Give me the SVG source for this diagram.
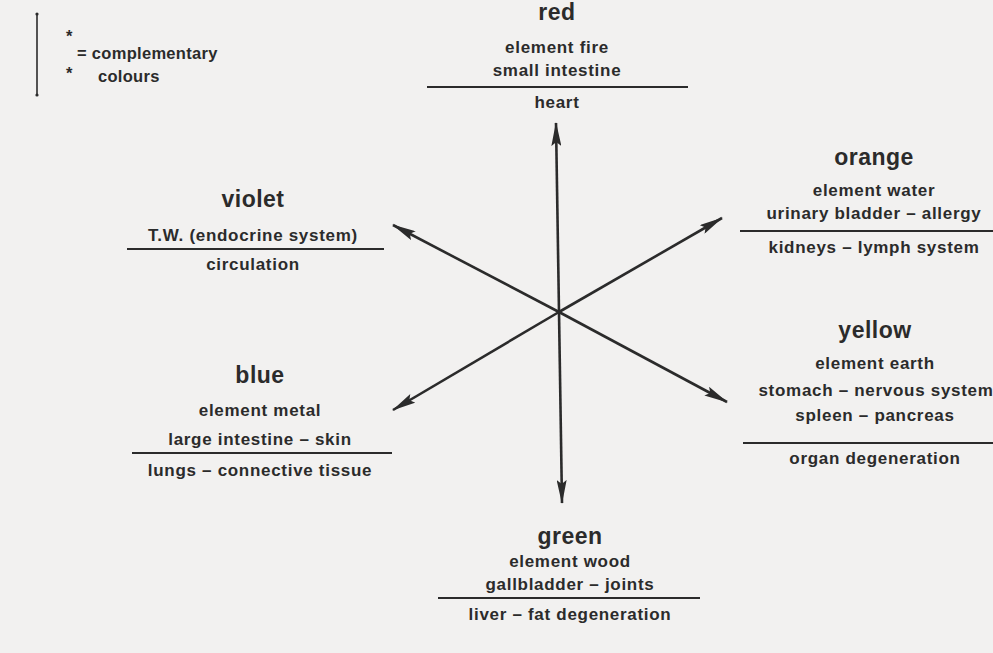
<svg xmlns="http://www.w3.org/2000/svg" width="993" height="653" viewBox="0 0 993 653">
  <style>
    text { font-family: "Liberation Sans", "DejaVu Sans", sans-serif; fill: #2b2b2b; text-anchor: middle; font-weight: bold; }
    .h { font-size: 23px; letter-spacing: 0.5px; }
    .t { font-size: 17px; letter-spacing: 0.7px; }
    .lg { font-size: 16.5px; text-anchor: start; letter-spacing: 0.3px; }
    .rule { stroke: #2b2b2b; stroke-width: 1.8; }
    .arr { stroke: #2b2b2b; stroke-width: 2.6; fill: none; marker-end: url(#ah); }
  </style>
  <defs>
    <marker id="ah" viewBox="0 0 24 10" refX="23" refY="5" markerWidth="24" markerHeight="10" markerUnits="userSpaceOnUse" orient="auto">
      <path d="M0,0 L24,5 L0,10 L4,5 z" fill="#2b2b2b"/>
    </marker>
  </defs>
  <rect width="993" height="653" fill="#f2f1f0"/>

  <g id="legend">
    <line x1="37" y1="14" x2="37" y2="95" stroke="#2b2b2b" stroke-width="1.6"/>
    <circle cx="37" cy="14" r="1.6" fill="#2b2b2b"/>
    <circle cx="37" cy="95" r="1.6" fill="#2b2b2b"/>
    <text class="lg" x="66" y="42">*</text>
    <text class="lg" x="66" y="79">*</text>
    <text class="lg" x="77" y="59">= complementary</text>
    <text class="lg" x="98" y="82">colours</text>
  </g>

  <g id="connectors">
    <line class="arr" x1="559" y1="312" x2="556" y2="123"/>
    <line class="arr" x1="559" y1="312" x2="562" y2="503"/>
    <line class="arr" x1="559" y1="312" x2="393" y2="225"/>
    <line class="arr" x1="559" y1="312" x2="722" y2="218"/>
    <line class="arr" x1="559" y1="312" x2="393" y2="410"/>
    <line class="arr" x1="559" y1="312" x2="727" y2="402"/>
  </g>

  <g id="red">
    <text class="h" x="557" y="20">red</text>
    <text class="t" x="557" y="53">element fire</text>
    <text class="t" x="557" y="76">small intestine</text>
    <line class="rule" x1="427" y1="87" x2="688" y2="87"/>
    <text class="t" x="557" y="108">heart</text>
  </g>

  <g id="orange">
    <text class="h" x="874" y="165">orange</text>
    <text class="t" x="874" y="196">element water</text>
    <text class="t" x="874" y="219">urinary bladder – allergy</text>
    <line class="rule" x1="740" y1="231" x2="993" y2="231"/>
    <text class="t" x="874" y="253">kidneys – lymph system</text>
  </g>

  <g id="violet">
    <text class="h" x="253" y="207">violet</text>
    <text class="t" x="253" y="241">T.W. (endocrine system)</text>
    <line class="rule" x1="127" y1="249" x2="384" y2="249"/>
    <text class="t" x="253" y="270">circulation</text>
  </g>

  <g id="blue">
    <text class="h" x="260" y="383">blue</text>
    <text class="t" x="260" y="416">element metal</text>
    <text class="t" x="260" y="445">large intestine – skin</text>
    <line class="rule" x1="132" y1="453" x2="392" y2="453"/>
    <text class="t" x="260" y="476">lungs – connective tissue</text>
  </g>

  <g id="yellow">
    <text class="h" x="875" y="338">yellow</text>
    <text class="t" x="875" y="369">element earth</text>
    <text class="t" x="876" y="396">stomach – nervous system</text>
    <text class="t" x="875" y="421">spleen – pancreas</text>
    <line class="rule" x1="743" y1="443" x2="993" y2="443"/>
    <text class="t" x="875" y="464">organ degeneration</text>
  </g>

  <g id="green">
    <text class="h" x="570" y="544">green</text>
    <text class="t" x="570" y="567">element wood</text>
    <text class="t" x="570" y="590">gallbladder – joints</text>
    <line class="rule" x1="438" y1="598" x2="700" y2="598"/>
    <text class="t" x="570" y="620">liver – fat degeneration</text>
  </g>
</svg>
